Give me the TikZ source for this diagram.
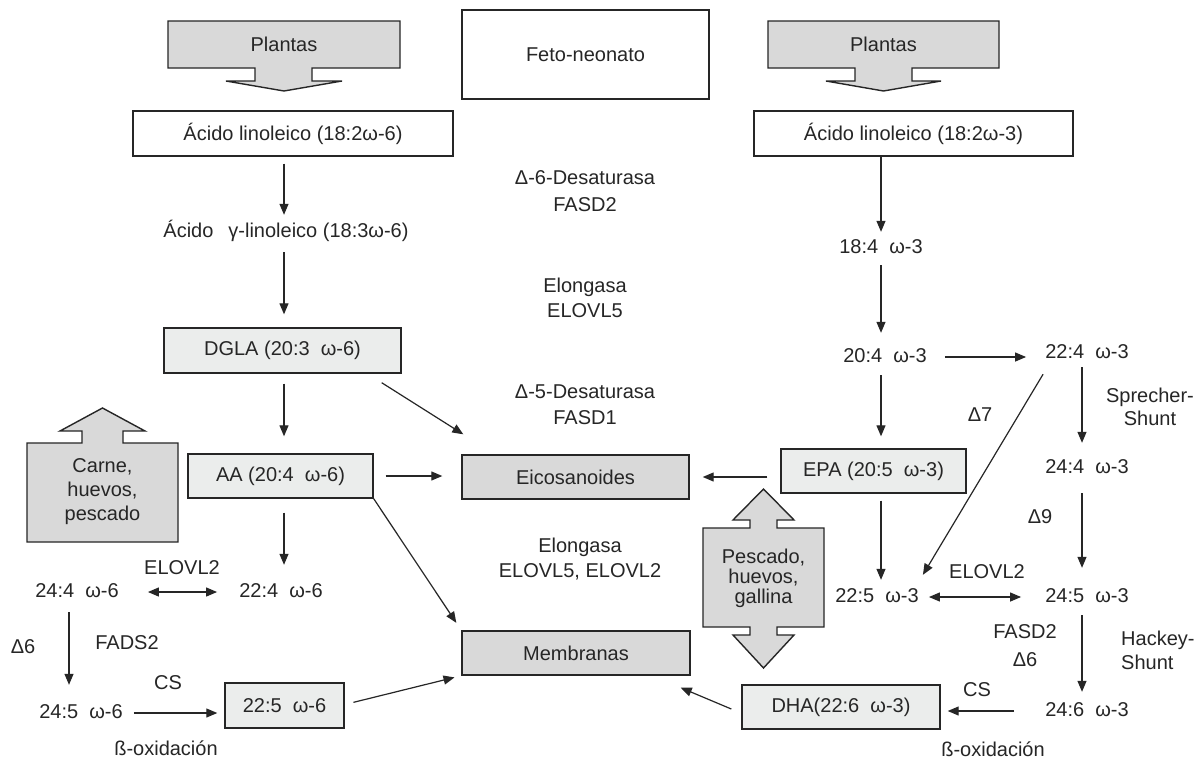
\documentclass[tikz,border=0pt]{standalone}
\usepackage{fontspec}
\setmainfont{Liberation Sans}
\usetikzlibrary{arrows.meta,calc}
\definecolor{dk}{HTML}{D9D9D9}
\definecolor{lt}{HTML}{EBEDEC}
\definecolor{ln}{HTML}{262626}
\begin{document}
\begin{tikzpicture}[x=1pt,y=-1pt,
  font=\fontsize{20}{25}\selectfont, text=ln,
  box/.style={draw=ln, line width=1.4pt, inner sep=0, minimum height=44pt},
  lbox/.style={box, fill=lt},
  gbox/.style={box, fill=dk},
  txt/.style={inner sep=0, text height=15pt, text depth=4pt},
  lbl/.style={inner sep=0, align=center},
  arr/.style={draw=ln, line width=1.2pt, -{Triangle[length=11pt,width=9pt]}},
  darr/.style={draw=ln, line width=1.2pt, {Triangle[length=11pt,width=9pt]}-{Triangle[length=11pt,width=9pt]}},
  bigarrow/.style={draw=ln, line width=1.4pt, fill=dk, line join=miter}]
\fill[white] (0,0) rectangle (1199,761);
\useasboundingbox (0,0) rectangle (1199,761);

% big arrows (shapes)
\draw[bigarrow] (168,21) -- (400,21) -- (400,68) -- (312,68) -- (312,81) -- (342,81) -- (284,91) -- (226,81) -- (255,81) -- (255,68) -- (168,68) -- cycle;
\node[lbl] (plantasL) at (284,44.5) {Plantas};
\draw[bigarrow] (768,21) -- (999,21) -- (999,68) -- (912,68) -- (912,81) -- (941,81) -- (883.5,91) -- (826,81) -- (855,81) -- (855,68) -- (768,68) -- cycle;
\node[lbl] (plantasR) at (883.5,44.5) {Plantas};
\draw[bigarrow] (27,443) -- (82,443) -- (82,431) -- (60,431) -- (102.5,408) -- (145,431) -- (123,431) -- (123,443) -- (178,443) -- (178,542) -- (27,542) -- cycle;
\node[lbl, font=\fontsize{20}{24}\selectfont] (carne) at (102.5,492) {Carne,\\huevos,\\pescado};
\draw[bigarrow] (703,528) -- (750,528) -- (750,520) -- (733,520) -- (763.5,489) -- (794,520) -- (777,520) -- (777,528) -- (824,528) -- (824,627) -- (777,627) -- (777,635) -- (794,635) -- (763.5,668) -- (733,635) -- (750,635) -- (750,627) -- (703,627) -- cycle;
\node[lbl, font=\fontsize{20}{20}\selectfont] (pescado) at (763.5,578) {Pescado,\\huevos,\\gallina};

% boxes
\node[box, minimum width=247pt, minimum height=89pt] (feto) at (585.5,54.5) {Feto-neonato};
\node[box, minimum width=320pt, minimum height=45pt] (lin6) at (293,133.5) {Ácido linoleico (18:2ω-6)};
\node[box, minimum width=319pt, minimum height=45pt] (lin3) at (913.5,133.5) {Ácido linoleico (18:2ω-3)};
\node[lbox, minimum width=237pt, minimum height=45pt] (dgla) at (282.5,350.5) {DGLA (20:3~~ω-6)};
\node[lbox, minimum width=185pt] (aa) at (280.5,476) {AA (20:4~~ω-6)};
\node[gbox, minimum width=227pt] (eico) at (575.5,477) {Eicosanoides};
\node[gbox, minimum width=228pt] (memb) at (576,653) {Membranas};
\node[lbox, minimum width=185pt] (epa) at (873.5,471) {EPA (20:5~~ω-3)};
\node[lbox, minimum width=198pt] (dha) at (841,707) {DHA(22:6~~ω-3)};
\node[lbox, minimum width=119pt, minimum height=45pt] (b225) at (284.5,705.5) {22:5~~ω-6};

% plain text nodes
\node[txt] (gla) at (286,232) {Ácido\hspace{0.75em}γ-linoleico (18:3ω-6)};
\node[txt] (t184) at (881,248) {18:4~~ω-3};
\node[txt] (t204) at (885,357) {20:4~~ω-3};
\node[txt] (t224r) at (1087,353) {22:4~~ω-3};
\node[txt] (t244r) at (1087,468) {24:4~~ω-3};
\node[txt] (t225r) at (877,597) {22:5~~ω-3};
\node[txt] (t245r) at (1087,597) {24:5~~ω-3};
\node[txt] (t246r) at (1087,711) {24:6~~ω-3};
\node[txt] (t244l) at (77,592) {24:4~~ω-6};
\node[txt] (t224l) at (281,592) {22:4~~ω-6};
\node[txt] (t245l) at (81,713) {24:5~~ω-6};

% labels
\node[lbl, font=\fontsize{20}{27}\selectfont] (d6) at (585,191.5) {Δ-6-Desaturasa\\FASD2};
\node[lbl] (el5) at (585,297.5) {Elongasa\\ELOVL5};
\node[lbl, font=\fontsize{20}{26}\selectfont] (d5) at (585,405) {Δ-5-Desaturasa\\FASD1};
\node[lbl] (el52) at (580,559.5) {Elongasa\\ELOVL5, ELOVL2};
\node[lbl, font=\fontsize{20}{23}\selectfont] (sprecher) at (1150,406.5) {Sprecher-\\Shunt};
\node[lbl, align=left, anchor=west, font=\fontsize{20}{24}\selectfont] (hackey) at (1121,650) {Hackey-\\Shunt};
\node[lbl] (d7) at (980,415) {Δ7};
\node[lbl] (d9) at (1040,517) {Δ9};
\node[lbl, font=\fontsize{20}{28}\selectfont] (fasd2r) at (1025,646) {FASD2\\Δ6};
\node[lbl] (elovr) at (987,572) {ELOVL2};
\node[lbl] (csr) at (977,690) {CS};
\node[lbl] (boxr) at (993,749) {ß-oxidación};
\node[lbl] (elovl) at (182,568) {ELOVL2};
\node[lbl] (fads2l) at (127,643) {FADS2};
\node[lbl] (d6l) at (23,647) {Δ6};
\node[lbl] (csl) at (168,683) {CS};
\node[lbl] (boxl) at (166,748) {ß-oxidación};

% column coordinates
\coordinate (lx) at (284,0);
\coordinate (rx) at (881,0);
\coordinate (rx2) at (1082,0);
\coordinate (lx2) at (69,0);

% connectors left
\draw[arr, shorten <=7pt, shorten >=7.5pt] (lin6.south -| lx) -- (gla.north -| lx);
\draw[arr, shorten <=10.5pt, shorten >=13pt] (gla.south -| lx) -- (dgla.north -| lx);
\draw[arr, shorten <=10pt, shorten >=17pt] (dgla.south -| lx) -- (aa.north -| lx);
\draw[arr] ($(dgla.south east)+(-20,9)$) -- ($(eico.north west)+(2,-20)$);
\draw[arr, shorten <=12pt, shorten >=19pt] (aa.east) -- (aa.east -| eico.west);
\draw[arr, shorten >=9pt] (aa.south east) -- (memb.north west);
\draw[arr, shorten <=9pt, shorten >=7pt] ($(b225.east)+(0,-1)$) -- (memb.south west);
\draw[arr, shorten <=14pt, shorten >=17.5pt] (aa.south -| lx) -- (t224l.north -| lx);
\draw[darr, shorten <=29pt, shorten >=22pt] (t244l.east) -- (t224l.west);
\draw[arr, shorten <=10.5pt, shorten >=18.5pt] (t244l.south -| lx2) -- (t245l.north -| lx2);
\draw[arr, shorten <=11pt, shorten >=7pt] (t245l.east) -- (t245l.east -| b225.west);

% connectors right
\draw[arr, shorten >=6.5pt] (lin3.south -| rx) -- (t184.north -| rx);
\draw[arr, shorten <=7.5pt, shorten >=14.5pt] (t184.south -| rx) -- (t204.north -| rx);
\draw[arr, shorten <=18pt, shorten >=19pt] (t204.east) -- (t204.east -| t224r.west);
\draw[arr, shorten <=8.5pt, shorten >=12pt] (t204.south -| rx) -- (epa.north -| rx);
\draw[arr, shorten <=13pt, shorten >=13pt] (epa.west |- eico.east) -- (eico.east);
\draw[arr, shorten <=4.5pt, shorten >=15.5pt] (t224r.south -| rx2) -- (t244r.north -| rx2);
\draw[arr] ($(t224r.south west)+(-2,11.5)$) -- ($(t225r.north east)+(4,-12.5)$);
\draw[arr, shorten <=15.5pt, shorten >=19.5pt] (t244r.south -| rx2) -- (t245r.north -| rx2);
\draw[arr, shorten <=7pt, shorten >=7.5pt] (epa.south -| rx) -- (t225r.north -| rx);
\draw[darr, shorten <=10pt, shorten >=24pt] (t225r.east) -- (t245r.west);
\draw[arr, shorten <=8.5pt, shorten >=9.5pt] (t245r.south -| rx2) -- (t246r.north -| rx2);
\draw[arr, shorten <=31pt, shorten >=7pt] (t246r.west) -- (t246r.west -| dha.east);
\draw[arr] ($(dha.west)+(-10,2)$) -- ($(memb.south east)+(-10,12)$);
\end{tikzpicture}
\end{document}
